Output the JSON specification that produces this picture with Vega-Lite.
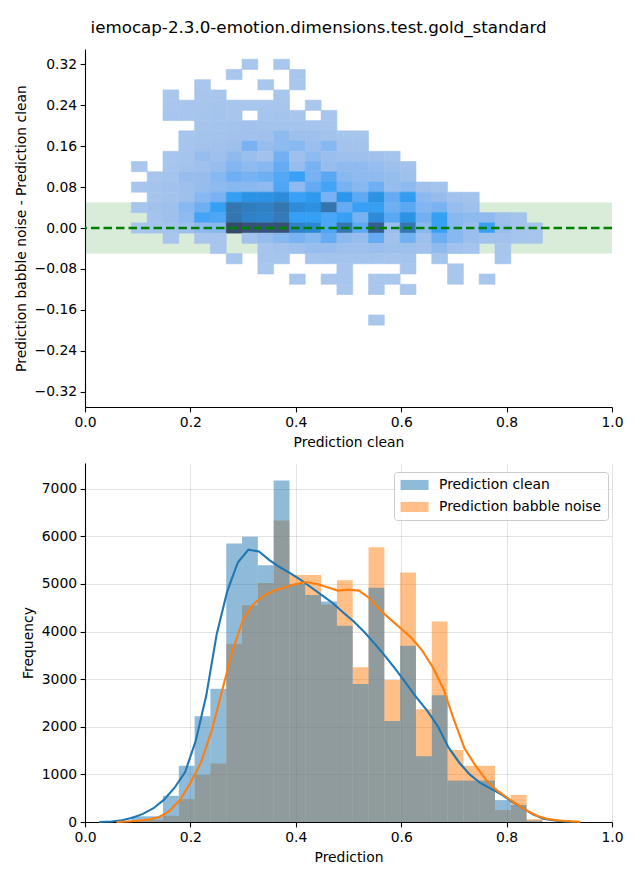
{
"$schema": "https://vega.github.io/schema/vega-lite/v6.json",
"padding": {"left": 14, "top": 20, "right": 10, "bottom": 8},
"background": "white",
"title": {"text": "iemocap-2.3.0-emotion.dimensions.test.gold_standard", "font": "DejaVu Sans", "fontSize": 16.7, "fontWeight": "normal", "color": "#000", "anchor": "middle", "offset": 12},
"spacing": 13,
"config": {
  "font": "DejaVu Sans",
  "view": {"stroke": null},
  "axis": {"labelFont": "DejaVu Sans", "labelFontSize": 13.9, "labelColor": "#000", "titleFont": "DejaVu Sans", "titleFontSize": 13.9, "titleFontWeight": "normal", "titleColor": "#000", "domainColor": "#000", "domainWidth": 1.1, "tickColor": "#000", "tickWidth": 1.1, "tickSize": 4.9, "labelPadding": 3.5, "titlePadding": 6, "gridColor": "#b0b0b0", "gridOpacity": 0.45, "gridWidth": 0.8, "zindex": 1, "labelFlush": false, "labelOverlap": false}
},
"datasets": {
"cells": [
{"x0":0.298,"x1":0.328,"y0":0.31,"y1":0.33,"n":5},{"x0":0.358,"x1":0.388,"y0":0.31,"y1":0.33,"n":5},
{"x0":0.268,"x1":0.298,"y0":0.29,"y1":0.31,"n":5},{"x0":0.388,"x1":0.418,"y0":0.29,"y1":0.31,"n":5},
{"x0":0.208,"x1":0.238,"y0":0.27,"y1":0.29,"n":5},{"x0":0.328,"x1":0.358,"y0":0.27,"y1":0.29,"n":5},{"x0":0.388,"x1":0.418,"y0":0.27,"y1":0.29,"n":5},
{"x0":0.148,"x1":0.178,"y0":0.25,"y1":0.27,"n":5},{"x0":0.208,"x1":0.238,"y0":0.25,"y1":0.27,"n":8},{"x0":0.238,"x1":0.268,"y0":0.25,"y1":0.27,"n":8},{"x0":0.358,"x1":0.388,"y0":0.25,"y1":0.27,"n":5},
{"x0":0.148,"x1":0.178,"y0":0.23,"y1":0.25,"n":5},{"x0":0.178,"x1":0.208,"y0":0.23,"y1":0.25,"n":8},{"x0":0.208,"x1":0.238,"y0":0.23,"y1":0.25,"n":10},{"x0":0.238,"x1":0.268,"y0":0.23,"y1":0.25,"n":15},{"x0":0.268,"x1":0.298,"y0":0.23,"y1":0.25,"n":10},{"x0":0.298,"x1":0.328,"y0":0.23,"y1":0.25,"n":10},{"x0":0.328,"x1":0.358,"y0":0.23,"y1":0.25,"n":12},{"x0":0.358,"x1":0.388,"y0":0.23,"y1":0.25,"n":10},{"x0":0.418,"x1":0.448,"y0":0.23,"y1":0.25,"n":5},
{"x0":0.148,"x1":0.178,"y0":0.21,"y1":0.23,"n":8},{"x0":0.178,"x1":0.208,"y0":0.21,"y1":0.23,"n":10},{"x0":0.208,"x1":0.238,"y0":0.21,"y1":0.23,"n":15},{"x0":0.238,"x1":0.268,"y0":0.21,"y1":0.23,"n":20},{"x0":0.268,"x1":0.298,"y0":0.21,"y1":0.23,"n":10},{"x0":0.328,"x1":0.358,"y0":0.21,"y1":0.23,"n":15},{"x0":0.358,"x1":0.388,"y0":0.21,"y1":0.23,"n":20},{"x0":0.388,"x1":0.418,"y0":0.21,"y1":0.23,"n":12},{"x0":0.448,"x1":0.478,"y0":0.21,"y1":0.23,"n":8},
{"x0":0.208,"x1":0.238,"y0":0.19,"y1":0.21,"n":15},{"x0":0.238,"x1":0.268,"y0":0.19,"y1":0.21,"n":20},{"x0":0.268,"x1":0.298,"y0":0.19,"y1":0.21,"n":25},{"x0":0.298,"x1":0.328,"y0":0.19,"y1":0.21,"n":30},{"x0":0.328,"x1":0.358,"y0":0.19,"y1":0.21,"n":25},{"x0":0.358,"x1":0.388,"y0":0.19,"y1":0.21,"n":20},{"x0":0.388,"x1":0.418,"y0":0.19,"y1":0.21,"n":20},{"x0":0.418,"x1":0.448,"y0":0.19,"y1":0.21,"n":15},{"x0":0.448,"x1":0.478,"y0":0.19,"y1":0.21,"n":10},
{"x0":0.178,"x1":0.208,"y0":0.17,"y1":0.19,"n":15},{"x0":0.208,"x1":0.238,"y0":0.17,"y1":0.19,"n":20},{"x0":0.238,"x1":0.268,"y0":0.17,"y1":0.19,"n":25},{"x0":0.268,"x1":0.298,"y0":0.17,"y1":0.19,"n":30},{"x0":0.298,"x1":0.328,"y0":0.17,"y1":0.19,"n":30},{"x0":0.328,"x1":0.358,"y0":0.17,"y1":0.19,"n":35},{"x0":0.358,"x1":0.388,"y0":0.17,"y1":0.19,"n":80},{"x0":0.388,"x1":0.418,"y0":0.17,"y1":0.19,"n":40},{"x0":0.418,"x1":0.448,"y0":0.17,"y1":0.19,"n":40},{"x0":0.448,"x1":0.478,"y0":0.17,"y1":0.19,"n":25},{"x0":0.478,"x1":0.508,"y0":0.17,"y1":0.19,"n":15},{"x0":0.508,"x1":0.538,"y0":0.17,"y1":0.19,"n":15},
{"x0":0.178,"x1":0.208,"y0":0.15,"y1":0.17,"n":15},{"x0":0.208,"x1":0.238,"y0":0.15,"y1":0.17,"n":25},{"x0":0.238,"x1":0.268,"y0":0.15,"y1":0.17,"n":30},{"x0":0.268,"x1":0.298,"y0":0.15,"y1":0.17,"n":40},{"x0":0.298,"x1":0.328,"y0":0.15,"y1":0.17,"n":150},{"x0":0.328,"x1":0.358,"y0":0.15,"y1":0.17,"n":60},{"x0":0.358,"x1":0.388,"y0":0.15,"y1":0.17,"n":80},{"x0":0.388,"x1":0.418,"y0":0.15,"y1":0.17,"n":100},{"x0":0.418,"x1":0.448,"y0":0.15,"y1":0.17,"n":50},{"x0":0.448,"x1":0.478,"y0":0.15,"y1":0.17,"n":110},{"x0":0.478,"x1":0.508,"y0":0.15,"y1":0.17,"n":25},{"x0":0.508,"x1":0.538,"y0":0.15,"y1":0.17,"n":25},
{"x0":0.148,"x1":0.178,"y0":0.13,"y1":0.15,"n":10},{"x0":0.178,"x1":0.208,"y0":0.13,"y1":0.15,"n":20},{"x0":0.208,"x1":0.238,"y0":0.13,"y1":0.15,"n":60},{"x0":0.238,"x1":0.268,"y0":0.13,"y1":0.15,"n":40},{"x0":0.268,"x1":0.298,"y0":0.13,"y1":0.15,"n":80},{"x0":0.298,"x1":0.328,"y0":0.13,"y1":0.15,"n":50},{"x0":0.328,"x1":0.358,"y0":0.13,"y1":0.15,"n":30},{"x0":0.358,"x1":0.388,"y0":0.13,"y1":0.15,"n":180},{"x0":0.388,"x1":0.418,"y0":0.13,"y1":0.15,"n":40},{"x0":0.418,"x1":0.448,"y0":0.13,"y1":0.15,"n":80},{"x0":0.448,"x1":0.478,"y0":0.13,"y1":0.15,"n":50},{"x0":0.478,"x1":0.508,"y0":0.13,"y1":0.15,"n":40},{"x0":0.508,"x1":0.538,"y0":0.13,"y1":0.15,"n":40},{"x0":0.538,"x1":0.568,"y0":0.13,"y1":0.15,"n":30},{"x0":0.568,"x1":0.598,"y0":0.13,"y1":0.15,"n":20},
{"x0":0.088,"x1":0.118,"y0":0.11,"y1":0.13,"n":5},{"x0":0.148,"x1":0.178,"y0":0.11,"y1":0.13,"n":15},{"x0":0.178,"x1":0.208,"y0":0.11,"y1":0.13,"n":25},{"x0":0.208,"x1":0.238,"y0":0.11,"y1":0.13,"n":40},{"x0":0.238,"x1":0.268,"y0":0.11,"y1":0.13,"n":60},{"x0":0.268,"x1":0.298,"y0":0.11,"y1":0.13,"n":120},{"x0":0.298,"x1":0.328,"y0":0.11,"y1":0.13,"n":80},{"x0":0.328,"x1":0.358,"y0":0.11,"y1":0.13,"n":100},{"x0":0.358,"x1":0.388,"y0":0.11,"y1":0.13,"n":250},{"x0":0.388,"x1":0.418,"y0":0.11,"y1":0.13,"n":60},{"x0":0.418,"x1":0.448,"y0":0.11,"y1":0.13,"n":150},{"x0":0.448,"x1":0.478,"y0":0.11,"y1":0.13,"n":60},{"x0":0.478,"x1":0.508,"y0":0.11,"y1":0.13,"n":80},{"x0":0.508,"x1":0.538,"y0":0.11,"y1":0.13,"n":80},{"x0":0.538,"x1":0.568,"y0":0.11,"y1":0.13,"n":60},{"x0":0.568,"x1":0.598,"y0":0.11,"y1":0.13,"n":40},{"x0":0.598,"x1":0.628,"y0":0.11,"y1":0.13,"n":30},
{"x0":0.118,"x1":0.148,"y0":0.09,"y1":0.11,"n":10},{"x0":0.148,"x1":0.178,"y0":0.09,"y1":0.11,"n":20},{"x0":0.178,"x1":0.208,"y0":0.09,"y1":0.11,"n":60},{"x0":0.208,"x1":0.238,"y0":0.09,"y1":0.11,"n":60},{"x0":0.238,"x1":0.268,"y0":0.09,"y1":0.11,"n":100},{"x0":0.268,"x1":0.298,"y0":0.09,"y1":0.11,"n":200},{"x0":0.298,"x1":0.328,"y0":0.09,"y1":0.11,"n":150},{"x0":0.328,"x1":0.358,"y0":0.09,"y1":0.11,"n":200},{"x0":0.358,"x1":0.388,"y0":0.09,"y1":0.11,"n":350},{"x0":0.388,"x1":0.418,"y0":0.09,"y1":0.11,"n":600},{"x0":0.418,"x1":0.448,"y0":0.09,"y1":0.11,"n":150},{"x0":0.448,"x1":0.478,"y0":0.09,"y1":0.11,"n":300},{"x0":0.478,"x1":0.508,"y0":0.09,"y1":0.11,"n":100},{"x0":0.508,"x1":0.538,"y0":0.09,"y1":0.11,"n":80},{"x0":0.538,"x1":0.568,"y0":0.09,"y1":0.11,"n":80},{"x0":0.568,"x1":0.598,"y0":0.09,"y1":0.11,"n":60},{"x0":0.598,"x1":0.628,"y0":0.09,"y1":0.11,"n":40},
{"x0":0.088,"x1":0.118,"y0":0.07,"y1":0.09,"n":10},{"x0":0.118,"x1":0.148,"y0":0.07,"y1":0.09,"n":20},{"x0":0.148,"x1":0.178,"y0":0.07,"y1":0.09,"n":30},{"x0":0.178,"x1":0.208,"y0":0.07,"y1":0.09,"n":40},{"x0":0.208,"x1":0.238,"y0":0.07,"y1":0.09,"n":60},{"x0":0.238,"x1":0.268,"y0":0.07,"y1":0.09,"n":80},{"x0":0.268,"x1":0.298,"y0":0.07,"y1":0.09,"n":100},{"x0":0.298,"x1":0.328,"y0":0.07,"y1":0.09,"n":100},{"x0":0.328,"x1":0.358,"y0":0.07,"y1":0.09,"n":80},{"x0":0.358,"x1":0.388,"y0":0.07,"y1":0.09,"n":400},{"x0":0.388,"x1":0.418,"y0":0.07,"y1":0.09,"n":80},{"x0":0.418,"x1":0.448,"y0":0.07,"y1":0.09,"n":250},{"x0":0.448,"x1":0.478,"y0":0.07,"y1":0.09,"n":500},{"x0":0.478,"x1":0.508,"y0":0.07,"y1":0.09,"n":150},{"x0":0.508,"x1":0.538,"y0":0.07,"y1":0.09,"n":100},{"x0":0.538,"x1":0.568,"y0":0.07,"y1":0.09,"n":200},{"x0":0.568,"x1":0.598,"y0":0.07,"y1":0.09,"n":60},{"x0":0.598,"x1":0.628,"y0":0.07,"y1":0.09,"n":80},{"x0":0.628,"x1":0.658,"y0":0.07,"y1":0.09,"n":30},{"x0":0.658,"x1":0.688,"y0":0.07,"y1":0.09,"n":20},
{"x0":0.118,"x1":0.148,"y0":0.05,"y1":0.07,"n":15},{"x0":0.148,"x1":0.178,"y0":0.05,"y1":0.07,"n":25},{"x0":0.178,"x1":0.208,"y0":0.05,"y1":0.07,"n":40},{"x0":0.208,"x1":0.238,"y0":0.05,"y1":0.07,"n":100},{"x0":0.238,"x1":0.268,"y0":0.05,"y1":0.07,"n":150},{"x0":0.268,"x1":0.298,"y0":0.05,"y1":0.07,"n":700},{"x0":0.298,"x1":0.328,"y0":0.05,"y1":0.07,"n":1100},{"x0":0.328,"x1":0.358,"y0":0.05,"y1":0.07,"n":1100},{"x0":0.358,"x1":0.388,"y0":0.05,"y1":0.07,"n":1300},{"x0":0.388,"x1":0.418,"y0":0.05,"y1":0.07,"n":600},{"x0":0.418,"x1":0.448,"y0":0.05,"y1":0.07,"n":900},{"x0":0.448,"x1":0.478,"y0":0.05,"y1":0.07,"n":150},{"x0":0.478,"x1":0.508,"y0":0.05,"y1":0.07,"n":1000},{"x0":0.508,"x1":0.538,"y0":0.05,"y1":0.07,"n":280},{"x0":0.538,"x1":0.568,"y0":0.05,"y1":0.07,"n":1100},{"x0":0.568,"x1":0.598,"y0":0.05,"y1":0.07,"n":250},{"x0":0.598,"x1":0.628,"y0":0.05,"y1":0.07,"n":800},{"x0":0.628,"x1":0.658,"y0":0.05,"y1":0.07,"n":90},{"x0":0.658,"x1":0.688,"y0":0.05,"y1":0.07,"n":60},{"x0":0.688,"x1":0.718,"y0":0.05,"y1":0.07,"n":30},{"x0":0.718,"x1":0.748,"y0":0.05,"y1":0.07,"n":25},
{"x0":0.088,"x1":0.118,"y0":0.03,"y1":0.05,"n":15},{"x0":0.118,"x1":0.148,"y0":0.03,"y1":0.05,"n":30},{"x0":0.148,"x1":0.178,"y0":0.03,"y1":0.05,"n":40},{"x0":0.178,"x1":0.208,"y0":0.03,"y1":0.05,"n":100},{"x0":0.208,"x1":0.238,"y0":0.03,"y1":0.05,"n":200},{"x0":0.238,"x1":0.268,"y0":0.03,"y1":0.05,"n":700},{"x0":0.268,"x1":0.298,"y0":0.03,"y1":0.05,"n":2000},{"x0":0.298,"x1":0.328,"y0":0.03,"y1":0.05,"n":1750},{"x0":0.328,"x1":0.358,"y0":0.03,"y1":0.05,"n":1650},{"x0":0.358,"x1":0.388,"y0":0.03,"y1":0.05,"n":2000},{"x0":0.388,"x1":0.418,"y0":0.03,"y1":0.05,"n":1300},{"x0":0.418,"x1":0.448,"y0":0.03,"y1":0.05,"n":1150},{"x0":0.448,"x1":0.478,"y0":0.03,"y1":0.05,"n":2050},{"x0":0.478,"x1":0.508,"y0":0.03,"y1":0.05,"n":250},{"x0":0.508,"x1":0.538,"y0":0.03,"y1":0.05,"n":650},{"x0":0.538,"x1":0.568,"y0":0.03,"y1":0.05,"n":700},{"x0":0.568,"x1":0.598,"y0":0.03,"y1":0.05,"n":200},{"x0":0.598,"x1":0.628,"y0":0.03,"y1":0.05,"n":300},{"x0":0.628,"x1":0.658,"y0":0.03,"y1":0.05,"n":120},{"x0":0.658,"x1":0.688,"y0":0.03,"y1":0.05,"n":150},{"x0":0.688,"x1":0.718,"y0":0.03,"y1":0.05,"n":60},{"x0":0.718,"x1":0.748,"y0":0.03,"y1":0.05,"n":40},
{"x0":0.118,"x1":0.148,"y0":0.01,"y1":0.03,"n":20},{"x0":0.148,"x1":0.178,"y0":0.01,"y1":0.03,"n":40},{"x0":0.178,"x1":0.208,"y0":0.01,"y1":0.03,"n":80},{"x0":0.208,"x1":0.238,"y0":0.01,"y1":0.03,"n":500},{"x0":0.238,"x1":0.268,"y0":0.01,"y1":0.03,"n":400},{"x0":0.268,"x1":0.298,"y0":0.01,"y1":0.03,"n":2000},{"x0":0.298,"x1":0.328,"y0":0.01,"y1":0.03,"n":1600},{"x0":0.328,"x1":0.358,"y0":0.01,"y1":0.03,"n":1500},{"x0":0.358,"x1":0.388,"y0":0.01,"y1":0.03,"n":1900},{"x0":0.388,"x1":0.418,"y0":0.01,"y1":0.03,"n":700},{"x0":0.418,"x1":0.448,"y0":0.01,"y1":0.03,"n":700},{"x0":0.448,"x1":0.478,"y0":0.01,"y1":0.03,"n":450},{"x0":0.478,"x1":0.508,"y0":0.01,"y1":0.03,"n":650},{"x0":0.508,"x1":0.538,"y0":0.01,"y1":0.03,"n":160},{"x0":0.538,"x1":0.568,"y0":0.01,"y1":0.03,"n":1300},{"x0":0.568,"x1":0.598,"y0":0.01,"y1":0.03,"n":300},{"x0":0.598,"x1":0.628,"y0":0.01,"y1":0.03,"n":1100},{"x0":0.628,"x1":0.658,"y0":0.01,"y1":0.03,"n":180},{"x0":0.658,"x1":0.688,"y0":0.01,"y1":0.03,"n":650},{"x0":0.688,"x1":0.718,"y0":0.01,"y1":0.03,"n":100},{"x0":0.718,"x1":0.748,"y0":0.01,"y1":0.03,"n":80},{"x0":0.748,"x1":0.778,"y0":0.01,"y1":0.03,"n":80},{"x0":0.778,"x1":0.808,"y0":0.01,"y1":0.03,"n":40},{"x0":0.808,"x1":0.838,"y0":0.01,"y1":0.03,"n":20},
{"x0":0.088,"x1":0.118,"y0":-0.01,"y1":0.01,"n":10},{"x0":0.118,"x1":0.148,"y0":-0.01,"y1":0.01,"n":15},{"x0":0.148,"x1":0.178,"y0":-0.01,"y1":0.01,"n":20},{"x0":0.178,"x1":0.208,"y0":-0.01,"y1":0.01,"n":40},{"x0":0.208,"x1":0.238,"y0":-0.01,"y1":0.01,"n":80},{"x0":0.238,"x1":0.268,"y0":-0.01,"y1":0.01,"n":100},{"x0":0.268,"x1":0.298,"y0":-0.01,"y1":0.01,"n":2750},{"x0":0.298,"x1":0.328,"y0":-0.01,"y1":0.01,"n":2650},{"x0":0.328,"x1":0.358,"y0":-0.01,"y1":0.01,"n":2600},{"x0":0.358,"x1":0.388,"y0":-0.01,"y1":0.01,"n":2650},{"x0":0.388,"x1":0.418,"y0":-0.01,"y1":0.01,"n":1600},{"x0":0.418,"x1":0.448,"y0":-0.01,"y1":0.01,"n":1400},{"x0":0.448,"x1":0.478,"y0":-0.01,"y1":0.01,"n":400},{"x0":0.478,"x1":0.508,"y0":-0.01,"y1":0.01,"n":2000},{"x0":0.508,"x1":0.538,"y0":-0.01,"y1":0.01,"n":280},{"x0":0.538,"x1":0.568,"y0":-0.01,"y1":0.01,"n":2450},{"x0":0.568,"x1":0.598,"y0":-0.01,"y1":0.01,"n":50},{"x0":0.598,"x1":0.628,"y0":-0.01,"y1":0.01,"n":2000},{"x0":0.628,"x1":0.658,"y0":-0.01,"y1":0.01,"n":100},{"x0":0.658,"x1":0.688,"y0":-0.01,"y1":0.01,"n":600},{"x0":0.688,"x1":0.718,"y0":-0.01,"y1":0.01,"n":100},{"x0":0.718,"x1":0.748,"y0":-0.01,"y1":0.01,"n":50},{"x0":0.748,"x1":0.778,"y0":-0.01,"y1":0.01,"n":650},{"x0":0.778,"x1":0.808,"y0":-0.01,"y1":0.01,"n":50},{"x0":0.808,"x1":0.838,"y0":-0.01,"y1":0.01,"n":20},{"x0":0.838,"x1":0.868,"y0":-0.01,"y1":0.01,"n":15},
{"x0":0.148,"x1":0.178,"y0":-0.03,"y1":-0.01,"n":8},{"x0":0.208,"x1":0.238,"y0":-0.03,"y1":-0.01,"n":10},{"x0":0.238,"x1":0.268,"y0":-0.03,"y1":-0.01,"n":12},{"x0":0.298,"x1":0.328,"y0":-0.03,"y1":-0.01,"n":25},{"x0":0.328,"x1":0.358,"y0":-0.03,"y1":-0.01,"n":60},{"x0":0.358,"x1":0.388,"y0":-0.03,"y1":-0.01,"n":100},{"x0":0.388,"x1":0.418,"y0":-0.03,"y1":-0.01,"n":150},{"x0":0.418,"x1":0.448,"y0":-0.03,"y1":-0.01,"n":100},{"x0":0.448,"x1":0.478,"y0":-0.03,"y1":-0.01,"n":250},{"x0":0.478,"x1":0.508,"y0":-0.03,"y1":-0.01,"n":80},{"x0":0.508,"x1":0.538,"y0":-0.03,"y1":-0.01,"n":60},{"x0":0.538,"x1":0.568,"y0":-0.03,"y1":-0.01,"n":250},{"x0":0.568,"x1":0.598,"y0":-0.03,"y1":-0.01,"n":30},{"x0":0.598,"x1":0.628,"y0":-0.03,"y1":-0.01,"n":180},{"x0":0.628,"x1":0.658,"y0":-0.03,"y1":-0.01,"n":40},{"x0":0.658,"x1":0.688,"y0":-0.03,"y1":-0.01,"n":200},{"x0":0.688,"x1":0.718,"y0":-0.03,"y1":-0.01,"n":100},{"x0":0.718,"x1":0.748,"y0":-0.03,"y1":-0.01,"n":50},{"x0":0.748,"x1":0.778,"y0":-0.03,"y1":-0.01,"n":30},{"x0":0.778,"x1":0.808,"y0":-0.03,"y1":-0.01,"n":30},{"x0":0.808,"x1":0.838,"y0":-0.03,"y1":-0.01,"n":15},{"x0":0.838,"x1":0.868,"y0":-0.03,"y1":-0.01,"n":10},
{"x0":0.238,"x1":0.268,"y0":-0.05,"y1":-0.03,"n":10},{"x0":0.328,"x1":0.358,"y0":-0.05,"y1":-0.03,"n":15},{"x0":0.358,"x1":0.388,"y0":-0.05,"y1":-0.03,"n":25},{"x0":0.388,"x1":0.418,"y0":-0.05,"y1":-0.03,"n":40},{"x0":0.418,"x1":0.448,"y0":-0.05,"y1":-0.03,"n":60},{"x0":0.448,"x1":0.478,"y0":-0.05,"y1":-0.03,"n":60},{"x0":0.478,"x1":0.508,"y0":-0.05,"y1":-0.03,"n":40},{"x0":0.508,"x1":0.538,"y0":-0.05,"y1":-0.03,"n":40},{"x0":0.538,"x1":0.568,"y0":-0.05,"y1":-0.03,"n":50},{"x0":0.568,"x1":0.598,"y0":-0.05,"y1":-0.03,"n":40},{"x0":0.598,"x1":0.628,"y0":-0.05,"y1":-0.03,"n":40},{"x0":0.628,"x1":0.658,"y0":-0.05,"y1":-0.03,"n":30},{"x0":0.658,"x1":0.688,"y0":-0.05,"y1":-0.03,"n":80},{"x0":0.688,"x1":0.718,"y0":-0.05,"y1":-0.03,"n":30},{"x0":0.718,"x1":0.748,"y0":-0.05,"y1":-0.03,"n":20},{"x0":0.778,"x1":0.808,"y0":-0.05,"y1":-0.03,"n":10},
{"x0":0.268,"x1":0.298,"y0":-0.07,"y1":-0.05,"n":10},{"x0":0.328,"x1":0.358,"y0":-0.07,"y1":-0.05,"n":15},{"x0":0.358,"x1":0.388,"y0":-0.07,"y1":-0.05,"n":15},{"x0":0.418,"x1":0.448,"y0":-0.07,"y1":-0.05,"n":15},{"x0":0.448,"x1":0.478,"y0":-0.07,"y1":-0.05,"n":20},{"x0":0.478,"x1":0.508,"y0":-0.07,"y1":-0.05,"n":20},{"x0":0.508,"x1":0.538,"y0":-0.07,"y1":-0.05,"n":20},{"x0":0.538,"x1":0.568,"y0":-0.07,"y1":-0.05,"n":20},{"x0":0.568,"x1":0.598,"y0":-0.07,"y1":-0.05,"n":15},{"x0":0.598,"x1":0.628,"y0":-0.07,"y1":-0.05,"n":20},{"x0":0.658,"x1":0.688,"y0":-0.07,"y1":-0.05,"n":15},{"x0":0.778,"x1":0.808,"y0":-0.07,"y1":-0.05,"n":10},
{"x0":0.328,"x1":0.358,"y0":-0.09,"y1":-0.07,"n":5},{"x0":0.478,"x1":0.508,"y0":-0.09,"y1":-0.07,"n":8},{"x0":0.598,"x1":0.628,"y0":-0.09,"y1":-0.07,"n":8},{"x0":0.688,"x1":0.718,"y0":-0.09,"y1":-0.07,"n":5},
{"x0":0.388,"x1":0.418,"y0":-0.11,"y1":-0.09,"n":5},{"x0":0.448,"x1":0.478,"y0":-0.11,"y1":-0.09,"n":5},{"x0":0.478,"x1":0.508,"y0":-0.11,"y1":-0.09,"n":8},{"x0":0.538,"x1":0.568,"y0":-0.11,"y1":-0.09,"n":5},{"x0":0.568,"x1":0.598,"y0":-0.11,"y1":-0.09,"n":5},{"x0":0.688,"x1":0.718,"y0":-0.11,"y1":-0.09,"n":5},{"x0":0.748,"x1":0.778,"y0":-0.11,"y1":-0.09,"n":5},
{"x0":0.478,"x1":0.508,"y0":-0.13,"y1":-0.11,"n":5},{"x0":0.538,"x1":0.568,"y0":-0.13,"y1":-0.11,"n":5},{"x0":0.598,"x1":0.628,"y0":-0.13,"y1":-0.11,"n":5},
{"x0":0.538,"x1":0.568,"y0":-0.19,"y1":-0.17,"n":3}
],
"hist": [
{"series":"Prediction babble noise","x0":0.088,"x1":0.118,"count":30},{"series":"Prediction babble noise","x0":0.118,"x1":0.148,"count":40},{"series":"Prediction babble noise","x0":0.148,"x1":0.178,"count":130},{"series":"Prediction babble noise","x0":0.178,"x1":0.208,"count":480},{"series":"Prediction babble noise","x0":0.208,"x1":0.238,"count":990},{"series":"Prediction babble noise","x0":0.238,"x1":0.268,"count":1230},{"series":"Prediction babble noise","x0":0.268,"x1":0.298,"count":3740},{"series":"Prediction babble noise","x0":0.298,"x1":0.328,"count":4550},{"series":"Prediction babble noise","x0":0.328,"x1":0.358,"count":5020},{"series":"Prediction babble noise","x0":0.358,"x1":0.388,"count":6330},{"series":"Prediction babble noise","x0":0.388,"x1":0.418,"count":5190},{"series":"Prediction babble noise","x0":0.418,"x1":0.448,"count":5190},{"series":"Prediction babble noise","x0":0.448,"x1":0.478,"count":4570},{"series":"Prediction babble noise","x0":0.478,"x1":0.508,"count":5080},{"series":"Prediction babble noise","x0":0.508,"x1":0.538,"count":3250},{"series":"Prediction babble noise","x0":0.538,"x1":0.568,"count":5770},{"series":"Prediction babble noise","x0":0.568,"x1":0.598,"count":2980},{"series":"Prediction babble noise","x0":0.598,"x1":0.628,"count":5240},{"series":"Prediction babble noise","x0":0.628,"x1":0.658,"count":2370},{"series":"Prediction babble noise","x0":0.658,"x1":0.688,"count":4210},{"series":"Prediction babble noise","x0":0.688,"x1":0.718,"count":1510},{"series":"Prediction babble noise","x0":0.718,"x1":0.748,"count":1180},{"series":"Prediction babble noise","x0":0.748,"x1":0.778,"count":1180},{"series":"Prediction babble noise","x0":0.778,"x1":0.808,"count":250},{"series":"Prediction babble noise","x0":0.808,"x1":0.838,"count":570},{"series":"Prediction babble noise","x0":0.838,"x1":0.868,"count":60},
{"series":"Prediction clean","x0":0.088,"x1":0.118,"count":120},{"series":"Prediction clean","x0":0.118,"x1":0.148,"count":120},{"series":"Prediction clean","x0":0.148,"x1":0.178,"count":550},{"series":"Prediction clean","x0":0.178,"x1":0.208,"count":1180},{"series":"Prediction clean","x0":0.208,"x1":0.238,"count":2220},{"series":"Prediction clean","x0":0.238,"x1":0.268,"count":2800},{"series":"Prediction clean","x0":0.268,"x1":0.298,"count":5850},{"series":"Prediction clean","x0":0.298,"x1":0.328,"count":5990},{"series":"Prediction clean","x0":0.328,"x1":0.358,"count":5390},{"series":"Prediction clean","x0":0.358,"x1":0.388,"count":7175},{"series":"Prediction clean","x0":0.388,"x1":0.418,"count":5000},{"series":"Prediction clean","x0":0.418,"x1":0.448,"count":4770},{"series":"Prediction clean","x0":0.448,"x1":0.478,"count":4630},{"series":"Prediction clean","x0":0.478,"x1":0.508,"count":4120},{"series":"Prediction clean","x0":0.508,"x1":0.538,"count":2900},{"series":"Prediction clean","x0":0.538,"x1":0.568,"count":4920},{"series":"Prediction clean","x0":0.568,"x1":0.598,"count":2120},{"series":"Prediction clean","x0":0.598,"x1":0.628,"count":3700},{"series":"Prediction clean","x0":0.628,"x1":0.658,"count":1380},{"series":"Prediction clean","x0":0.658,"x1":0.688,"count":2660},{"series":"Prediction clean","x0":0.688,"x1":0.718,"count":870},{"series":"Prediction clean","x0":0.718,"x1":0.748,"count":870},{"series":"Prediction clean","x0":0.748,"x1":0.778,"count":870},{"series":"Prediction clean","x0":0.778,"x1":0.808,"count":460},{"series":"Prediction clean","x0":0.808,"x1":0.838,"count":360},{"series":"Prediction clean","x0":0.838,"x1":0.868,"count":30}
],
"kde": [
{"series":"Prediction clean","x":0.027,"d":0},{"series":"Prediction clean","x":0.05,"d":10},{"series":"Prediction clean","x":0.07,"d":35},{"series":"Prediction clean","x":0.09,"d":90},{"series":"Prediction clean","x":0.11,"d":170},{"series":"Prediction clean","x":0.13,"d":290},{"series":"Prediction clean","x":0.15,"d":470},{"series":"Prediction clean","x":0.17,"d":720},{"series":"Prediction clean","x":0.19,"d":1050},{"series":"Prediction clean","x":0.21,"d":1700},{"series":"Prediction clean","x":0.23,"d":2650},{"series":"Prediction clean","x":0.25,"d":3950},{"series":"Prediction clean","x":0.27,"d":4850},{"series":"Prediction clean","x":0.29,"d":5450},{"series":"Prediction clean","x":0.31,"d":5720},{"series":"Prediction clean","x":0.33,"d":5680},{"series":"Prediction clean","x":0.35,"d":5500},{"series":"Prediction clean","x":0.37,"d":5350},{"series":"Prediction clean","x":0.39,"d":5220},{"series":"Prediction clean","x":0.41,"d":5080},{"series":"Prediction clean","x":0.43,"d":4920},{"series":"Prediction clean","x":0.45,"d":4760},{"series":"Prediction clean","x":0.47,"d":4600},{"series":"Prediction clean","x":0.49,"d":4400},{"series":"Prediction clean","x":0.51,"d":4210},{"series":"Prediction clean","x":0.53,"d":3990},{"series":"Prediction clean","x":0.55,"d":3740},{"series":"Prediction clean","x":0.57,"d":3480},{"series":"Prediction clean","x":0.59,"d":3200},{"series":"Prediction clean","x":0.61,"d":2900},{"series":"Prediction clean","x":0.63,"d":2600},{"series":"Prediction clean","x":0.65,"d":2330},{"series":"Prediction clean","x":0.67,"d":2000},{"series":"Prediction clean","x":0.69,"d":1560},{"series":"Prediction clean","x":0.71,"d":1250},{"series":"Prediction clean","x":0.73,"d":1000},{"series":"Prediction clean","x":0.75,"d":820},{"series":"Prediction clean","x":0.77,"d":700},{"series":"Prediction clean","x":0.79,"d":580},{"series":"Prediction clean","x":0.81,"d":430},{"series":"Prediction clean","x":0.83,"d":300},{"series":"Prediction clean","x":0.85,"d":160},{"series":"Prediction clean","x":0.87,"d":70},{"series":"Prediction clean","x":0.89,"d":30},{"series":"Prediction clean","x":0.91,"d":12},{"series":"Prediction clean","x":0.93,"d":4},
{"series":"Prediction babble noise","x":0.06,"d":0},{"series":"Prediction babble noise","x":0.08,"d":10},{"series":"Prediction babble noise","x":0.1,"d":25},{"series":"Prediction babble noise","x":0.12,"d":50},{"series":"Prediction babble noise","x":0.14,"d":100},{"series":"Prediction babble noise","x":0.16,"d":230},{"series":"Prediction babble noise","x":0.18,"d":460},{"series":"Prediction babble noise","x":0.2,"d":820},{"series":"Prediction babble noise","x":0.22,"d":1250},{"series":"Prediction babble noise","x":0.24,"d":1900},{"series":"Prediction babble noise","x":0.26,"d":2750},{"series":"Prediction babble noise","x":0.28,"d":3600},{"series":"Prediction babble noise","x":0.3,"d":4250},{"series":"Prediction babble noise","x":0.32,"d":4580},{"series":"Prediction babble noise","x":0.34,"d":4760},{"series":"Prediction babble noise","x":0.36,"d":4860},{"series":"Prediction babble noise","x":0.38,"d":4930},{"series":"Prediction babble noise","x":0.4,"d":5000},{"series":"Prediction babble noise","x":0.42,"d":5040},{"series":"Prediction babble noise","x":0.44,"d":5000},{"series":"Prediction babble noise","x":0.46,"d":4930},{"series":"Prediction babble noise","x":0.48,"d":4860},{"series":"Prediction babble noise","x":0.5,"d":4880},{"series":"Prediction babble noise","x":0.52,"d":4860},{"series":"Prediction babble noise","x":0.54,"d":4700},{"series":"Prediction babble noise","x":0.56,"d":4450},{"series":"Prediction babble noise","x":0.58,"d":4250},{"series":"Prediction babble noise","x":0.6,"d":4060},{"series":"Prediction babble noise","x":0.62,"d":3860},{"series":"Prediction babble noise","x":0.64,"d":3600},{"series":"Prediction babble noise","x":0.66,"d":3250},{"series":"Prediction babble noise","x":0.68,"d":2800},{"series":"Prediction babble noise","x":0.7,"d":2150},{"series":"Prediction babble noise","x":0.72,"d":1550},{"series":"Prediction babble noise","x":0.74,"d":1200},{"series":"Prediction babble noise","x":0.76,"d":900},{"series":"Prediction babble noise","x":0.78,"d":680},{"series":"Prediction babble noise","x":0.8,"d":520},{"series":"Prediction babble noise","x":0.82,"d":370},{"series":"Prediction babble noise","x":0.84,"d":230},{"series":"Prediction babble noise","x":0.86,"d":120},{"series":"Prediction babble noise","x":0.88,"d":60},{"series":"Prediction babble noise","x":0.9,"d":30},{"series":"Prediction babble noise","x":0.92,"d":15},{"series":"Prediction babble noise","x":0.94,"d":3}
]
},
"vconcat": [
{
  "width": 527, "height": 358,
  "layer": [
    {"data": {"values": [{}]}, "mark": {"type": "rect", "color": "green", "opacity": 0.15},
     "encoding": {"x": {"datum": 0, "type": "quantitative"}, "x2": {"datum": 1}, "y": {"datum": -0.05, "type": "quantitative"}, "y2": {"datum": 0.05}}},
    {"data": {"name": "cells"}, "mark": {"type": "rect", "strokeWidth": 0.6},
     "encoding": {
       "x": {"field": "x0", "type": "quantitative", "scale": {"domain": [0, 1], "nice": false, "zero": false}, "title": "Prediction clean", "axis": {"values": [0, 0.2, 0.4, 0.6, 0.8, 1], "format": ".1f"}},
       "x2": {"field": "x1"},
       "y": {"field": "y0", "type": "quantitative", "scale": {"domain": [-0.35, 0.35], "nice": false, "zero": false}, "title": "Prediction babble noise - Prediction clean", "axis": {"values": [-0.32, -0.24, -0.16, -0.08, 0, 0.08, 0.16, 0.24, 0.32], "format": ".2f"}},
       "y2": {"field": "y1"},
       "fill": {"field": "n", "type": "quantitative", "legend": null, "scale": {"type": "linear", "interpolate": "rgb", "domain": [0, 30, 80, 150, 300, 600, 1000, 1400, 2000, 2500, 2800], "range": ["#aac7ed", "#a2c2ed", "#8fbaef", "#78b2f2", "#5aa8f4", "#38a1f6", "#2c97ea", "#2d88d3", "#3477b0", "#37598a", "#38485f"]}},
       "stroke": {"field": "n", "type": "quantitative", "legend": null, "scale": {"type": "linear", "interpolate": "rgb", "domain": [0, 30, 80, 150, 300, 600, 1000, 1400, 2000, 2500, 2800], "range": ["#aac7ed", "#a2c2ed", "#8fbaef", "#78b2f2", "#5aa8f4", "#38a1f6", "#2c97ea", "#2d88d3", "#3477b0", "#37598a", "#38485f"]}}
     }},
    {"data": {"values": [{}]}, "mark": {"type": "rule", "color": "green", "strokeWidth": 2.4, "strokeDash": [8.5, 4]},
     "encoding": {"y": {"datum": 0, "type": "quantitative"}}}
  ]
},
{
  "width": 527, "height": 359,
  "layer": [
    {"data": {"name": "hist"}, "mark": {"type": "bar", "opacity": 0.5},
     "encoding": {
       "x": {"field": "x0", "type": "quantitative", "scale": {"domain": [0, 1], "nice": false, "zero": false}, "title": "Prediction", "axis": {"values": [0, 0.2, 0.4, 0.6, 0.8, 1], "format": ".1f"}},
       "x2": {"field": "x1"},
       "y": {"field": "count", "type": "quantitative", "stack": null, "scale": {"domain": [0, 7540], "nice": false}, "title": "Frequency", "axis": {"values": [0, 1000, 2000, 3000, 4000, 5000, 6000, 7000], "format": "d"}},
       "y2": {"datum": 0},
       "color": {"field": "series", "type": "nominal", "scale": {"domain": ["Prediction clean", "Prediction babble noise"], "range": ["#1f77b4", "#ff7f0e"]},
         "legend": {"title": null, "orient": "none", "legendX": 309, "legendY": 423, "symbolType": "M-2.8,-1H2.8V1H-2.8Z", "symbolSize": 100, "symbolStrokeWidth": 0, "symbolOpacity": 0.5, "labelFont": "DejaVu Sans", "labelFontSize": 13.9, "labelColor": "#000", "labelLimit": 300, "padding": 6, "rowPadding": 7, "labelOffset": 17.5, "symbolOffset": 7.6, "fillColor": "rgba(255,255,255,0.8)", "strokeColor": "#cccccc", "cornerRadius": 3}}
     }},
    {"data": {"name": "kde"}, "mark": {"type": "line", "strokeWidth": 2.1},
     "encoding": {
       "x": {"field": "x", "type": "quantitative"},
       "y": {"field": "d", "type": "quantitative"},
       "stroke": {"field": "series", "type": "nominal", "scale": {"domain": ["Prediction clean", "Prediction babble noise"], "range": ["#1f77b4", "#ff7f0e"]}, "legend": null}
     }}
  ]
}
]
}
